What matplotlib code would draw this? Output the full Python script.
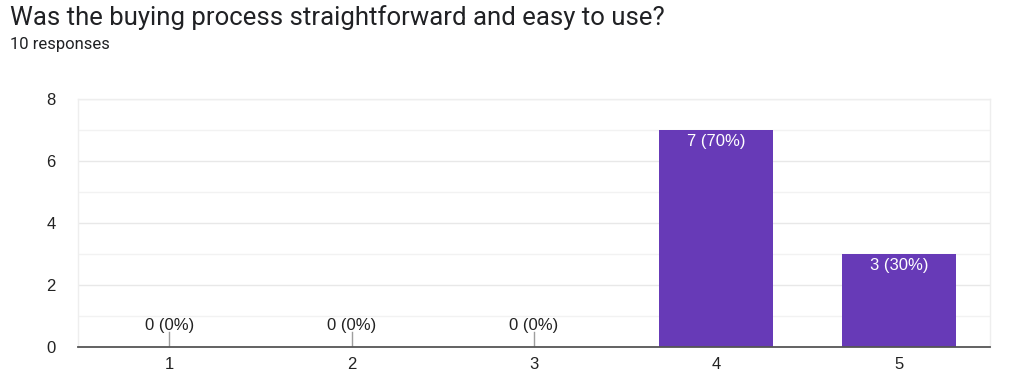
import matplotlib.pyplot as plt
from matplotlib.ticker import MultipleLocator

title = 'Was the buying process straightforward and easy to use?'
subtitle = '10 responses'
categories = ['1', '2', '3', '4', '5']
counts = [0, 0, 0, 7, 3]
percents = [0, 0, 0, 70, 30]

bar_color = '#673ab7'
text_color = '#222222'

plt.rcParams['font.family'] = ['Liberation Sans', 'DejaVu Sans']

fig = plt.figure(figsize=(10.22, 3.87), dpi=100)
ax = fig.add_axes([78 / 1022, 1 - 347 / 387, 912 / 1022, 248 / 387])

x = list(range(len(categories)))
ax.bar(x, counts, width=0.625, color=bar_color, zorder=3)

for xi, c, p in zip(x, counts, percents):
    label = '%d (%d%%)' % (c, p)
    if c == 0:
        ax.plot([xi, xi], [0, 0.5], color='#9e9e9e', lw=1, zorder=3)
        ax.text(xi, 0.45, label, ha='center', va='bottom', fontsize=12, color=text_color)
    else:
        ax.text(xi, c - 0.13, label, ha='center', va='top', fontsize=12, color='white', zorder=4)

ax.set_xlim(-0.5, len(categories) - 0.5)
ax.set_ylim(0, 8)
ax.set_xticks(x)
ax.set_xticklabels(categories)
ax.yaxis.set_major_locator(MultipleLocator(2))
ax.yaxis.set_minor_locator(MultipleLocator(1))
ax.grid(axis='y', which='major', color='#e8e8e8', lw=1, zorder=0)
ax.grid(axis='y', which='minor', color='#f2f2f2', lw=1, zorder=0)
ax.tick_params(axis='both', which='both', length=0, labelsize=12, colors=text_color)
ax.tick_params(axis='y', pad=16)
ax.tick_params(axis='x', pad=7)

for side in ['top', 'left', 'right']:
    ax.spines[side].set_color('#eeeeee')
    ax.spines[side].set_linewidth(1)
ax.spines['bottom'].set_color('#555555')
ax.spines['bottom'].set_linewidth(1.3)
ax.spines['bottom'].set_zorder(5)

fig.text(10 / 1022, 1 - 18 / 387, title, fontsize=18.5, color='#202124',
         family=['Roboto', 'DejaVu Sans'], va='center', ha='left')
fig.text(10 / 1022, 1 - 45 / 387, subtitle, fontsize=12, color='#202124',
         family=['Roboto', 'DejaVu Sans'], va='center', ha='left')

fig.savefig('out.png', dpi=100, facecolor='white')
